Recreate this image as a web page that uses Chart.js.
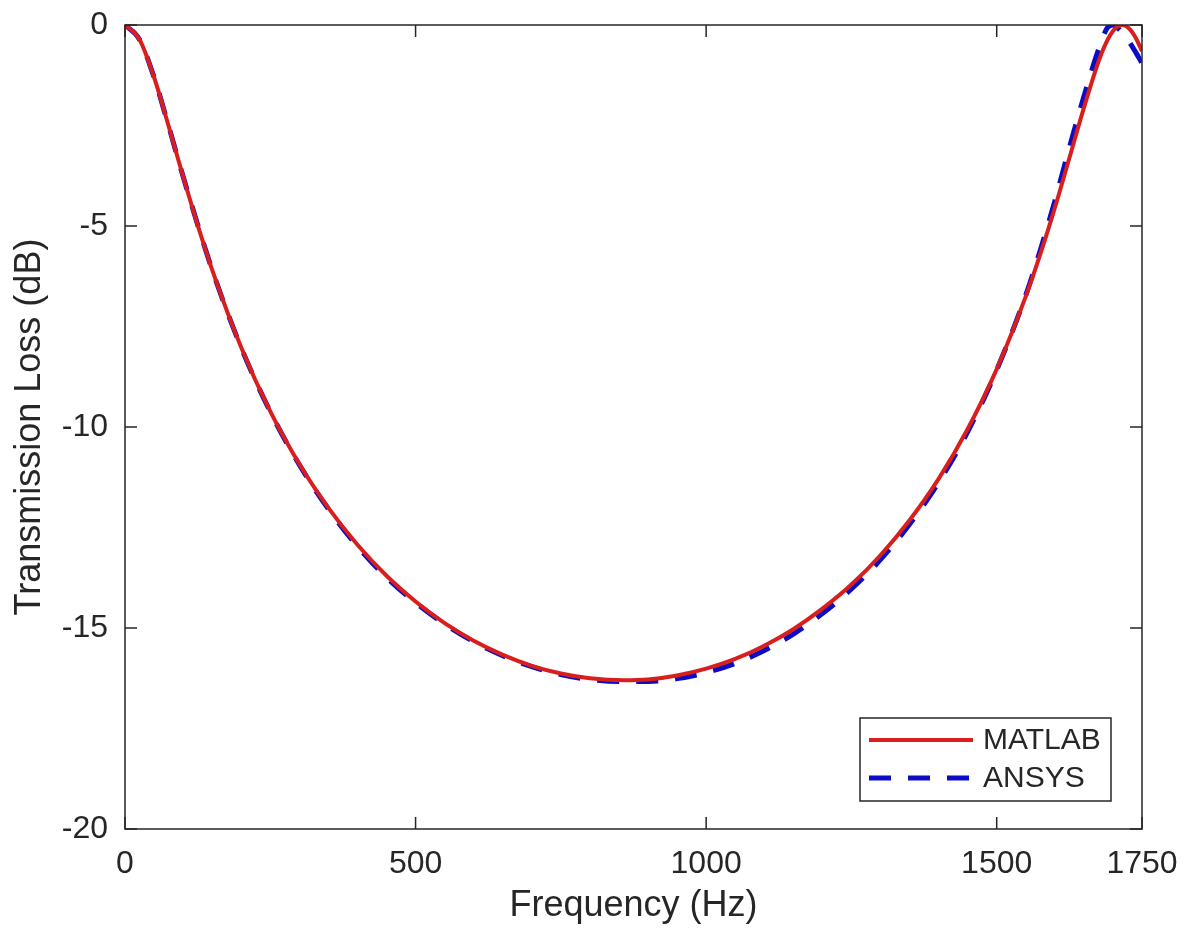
<!DOCTYPE html>
<html>
<head>
<meta charset="utf-8">
<script src="https://cdn.jsdelivr.net/npm/chart.js@4"></script>
<style>
html, body { margin: 0; padding: 0; background: #fff; }
</style>
</head>
<body>
<canvas id="chart" width="1196" height="929"></canvas>
<script>
// Frequency (Hz) and transmission loss (dB)
const freqMatlab = [0, 25, 50, 75, 100, 125, 150, 200, 250, 300, 350, 400, 450, 500, 550, 600, 650, 700, 750, 800, 858, 900, 950, 1000, 1050, 1100, 1150, 1200, 1250, 1300, 1350, 1400, 1450, 1500, 1550, 1575, 1600, 1625, 1650, 1680, 1700, 1716, 1730, 1740, 1750];
const tlMatlab = [0, -0.36, -1.30, -2.51, -3.77, -4.97, -6.09, -8.02, -9.61, -10.92, -12.01, -12.93, -13.70, -14.34, -14.88, -15.32, -15.67, -15.94, -16.13, -16.25, -16.30, -16.28, -16.18, -16.01, -15.77, -15.44, -15.03, -14.52, -13.92, -13.19, -12.32, -11.29, -10.05, -8.56, -6.75, -5.70, -4.55, -3.31, -2.06, -0.72, -0.15, 0, -0.12, -0.34, -0.65];

const freqAnsys = [0, 25, 50, 75, 100, 150, 200, 250, 300, 350, 400, 450, 500, 550, 600, 650, 700, 750, 800, 850, 900, 950, 1000, 1050, 1100, 1150, 1200, 1250, 1300, 1350, 1400, 1450, 1500, 1550, 1575, 1600, 1625, 1650, 1675, 1690, 1700, 1710, 1725, 1740, 1750];
const tlAnsys = [0, -0.36, -1.30, -2.51, -3.77, -6.09, -8.03, -9.62, -10.94, -12.04, -12.97, -13.74, -14.37, -14.90, -15.34, -15.69, -15.96, -16.16, -16.28, -16.33, -16.33, -16.26, -16.11, -15.88, -15.56, -15.15, -14.64, -14.03, -13.30, -12.42, -11.38, -10.12, -8.58, -6.72, -5.60, -4.38, -3.05, -1.78, -0.62, -0.08, 0, -0.10, -0.36, -0.70, -0.95];

const xTicks = [0, 500, 1000, 1500, 1750];
const yTicks = [-20, -15, -10, -5, 0];
const seriesNames = ['MATLAB', 'ANSYS'];

const axisColor = '#262626';
const fontFamily = '"Liberation Sans", Arial, Helvetica, sans-serif';

const toPoints = (xs, ys) => xs.map((x, i) => ({ x: x, y: ys[i] }));

// box around the axes with inward ticks on every side
const framePlugin = {
    id: 'frame',
    afterDraw(chart) {
        const { ctx, chartArea: a, scales } = chart;
        const len = 12;
        ctx.save();
        ctx.strokeStyle = axisColor;
        ctx.lineWidth = 1.5;
        ctx.strokeRect(a.left, a.top, a.right - a.left, a.bottom - a.top);
        ctx.beginPath();
        xTicks.forEach(v => {
            const px = scales.x.getPixelForValue(v);
            ctx.moveTo(px, a.bottom); ctx.lineTo(px, a.bottom - len);
            ctx.moveTo(px, a.top); ctx.lineTo(px, a.top + len);
        });
        yTicks.forEach(v => {
            const py = scales.y.getPixelForValue(v);
            ctx.moveTo(a.left, py); ctx.lineTo(a.left + len, py);
            ctx.moveTo(a.right, py); ctx.lineTo(a.right - len, py);
        });
        ctx.stroke();
        ctx.restore();
    }
};

// legend box in the lower right corner
const legendPlugin = {
    id: 'boxLegend',
    afterDraw(chart) {
        const { ctx } = chart;
        const bx = 860, by = 718, bw = 251, bh = 83;
        ctx.save();
        ctx.fillStyle = '#fff';
        ctx.fillRect(bx, by, bw, bh);
        ctx.strokeStyle = axisColor;
        ctx.lineWidth = 1.5;
        ctx.strokeRect(bx, by, bw, bh);
        ctx.font = '30px ' + fontFamily;
        ctx.textBaseline = 'middle';
        chart.data.datasets.forEach((ds, i) => {
            const y = by + 22 + i * 38;
            ctx.strokeStyle = ds.borderColor;
            ctx.lineWidth = ds.borderWidth;
            ctx.setLineDash(ds.borderDash || []);
            ctx.beginPath();
            ctx.moveTo(869, y);
            ctx.lineTo(973, y);
            ctx.stroke();
            ctx.setLineDash([]);
            ctx.fillStyle = axisColor;
            ctx.fillText(ds.label, 983, y + 1);
        });
        ctx.restore();
    }
};

new Chart(document.getElementById('chart'), {
    type: 'line',
    data: {
        datasets: [{
            label: seriesNames[0],
            data: toPoints(freqMatlab, tlMatlab),
            borderColor: '#d91e1e',
            borderWidth: 4,
            pointRadius: 0,
            cubicInterpolationMode: 'monotone',
            fill: false
        }, {
            label: seriesNames[1],
            data: toPoints(freqAnsys, tlAnsys),
            borderColor: '#0c0cc4',
            borderWidth: 5,
            borderDash: [22, 17],
            pointRadius: 0,
            cubicInterpolationMode: 'monotone',
            fill: false
        }]
    },
    options: {
        responsive: false,
        animation: false,
        layout: { padding: { top: 25, right: 54, left: 0, bottom: 0 } },
        plugins: {
            legend: { display: false },
            tooltip: { enabled: false }
        },
        scales: {
            x: {
                type: 'linear',
                min: 0,
                max: 1750,
                afterBuildTicks: scale => { scale.ticks = xTicks.map(v => ({ value: v })); },
                afterFit: scale => { scale.height = 100; scale.paddingLeft = 0; scale.paddingRight = 0; },
                grid: { display: false, drawTicks: false },
                border: { display: false },
                ticks: {
                    color: axisColor,
                    font: { family: fontFamily, size: 32 },
                    padding: 16,
                    maxRotation: 0,
                    autoSkip: false,
                    callback: v => String(v)
                },
                title: {
                    display: true,
                    text: 'Frequency (Hz)',
                    color: axisColor,
                    font: { family: fontFamily, size: 36 },
                    padding: { top: 0, bottom: 1 }
                }
            },
            y: {
                min: -20,
                max: 0,
                afterBuildTicks: scale => { scale.ticks = yTicks.map(v => ({ value: v })); },
                afterFit: scale => { scale.width = 125; scale.paddingTop = 0; scale.paddingBottom = 0; },
                grid: { display: false, drawTicks: false },
                border: { display: false },
                ticks: {
                    color: axisColor,
                    font: { family: fontFamily, size: 32 },
                    padding: 17,
                    callback: v => String(v)
                },
                title: {
                    display: true,
                    text: 'Transmission Loss (dB)',
                    color: axisColor,
                    font: { family: fontFamily, size: 36 },
                    padding: { top: 8, bottom: 0 }
                }
            }
        }
    },
    plugins: [framePlugin, legendPlugin]
});
</script>
</body>
</html>
